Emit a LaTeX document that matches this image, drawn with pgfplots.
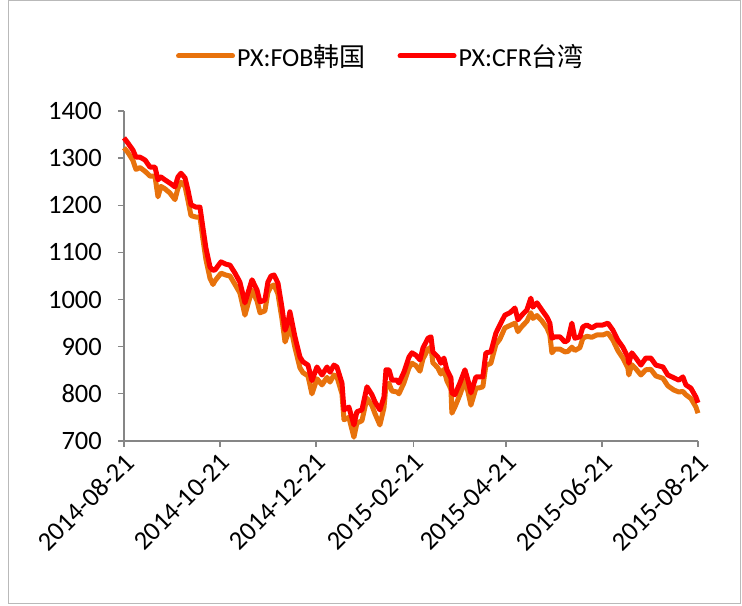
\documentclass[border=0pt]{standalone}
\usepackage{fontspec}
\setmainfont{Carlito}
\newfontfamily\cjk{Noto Sans CJK SC}
\usepackage{pgfplots}
\usepackage{pgfplotstable}
\pgfplotsset{compat=1.18}
\definecolor{fob}{RGB}{232,114,12}
\definecolor{cfr}{RGB}{255,0,0}
\definecolor{axisgray}{RGB}{134,134,134}

% day = days since 2014-08-21, prices in USD/t
\pgfplotstableread{
day cfr fob
0 1343 1322
2.5 1332 1312
5.7 1317 1295
7.6 1302 1276
10.2 1302 1280
13.4 1296 1272
16.5 1281 1262
19.7 1281 1262
21.6 1254 1218
23.5 1260 1240
26 1254 1235
29.2 1247 1226
32.4 1239 1212
34.3 1260 1236
36.2 1268 1249
38.8 1258 1240
40.7 1232 1210
42.6 1201 1178
45.8 1196 1175
48.3 1196 1175
50.2 1152 1128
52.1 1109 1085
54.7 1069 1045
56.6 1062 1032
57.9 1063 1040
61.7 1080 1056
64.8 1075 1052
67.4 1073 1050
70.6 1056 1032
73.7 1037 1014
76.9 993 967
78.8 1014 990
81.4 1042 1020
84.6 1020 997
86.5 995 972
89.6 999 976
91.5 1037 1015
93.5 1050 1028
95.4 1052 1031
97.9 1035 1012
100.4 984 960
102.4 935 910
104.3 952 928
105.5 974 950
108.7 921 898
111.9 878 855
113.8 868 845
117 861 838
119.5 828 800
122.7 857 832
125.9 840 819
129.1 857 835
131 846 825
133.5 861 840
135.4 857 836
138.6 823 800
139.9 766 745
143 772 750
146.2 734 708
148.1 762 738
151.3 766 743
154.5 815 791
157.7 798 775
159.6 783 758
162.7 766 734
165.3 793 770
166.6 851 819
168.5 851 822
170.4 829 806
173.6 829 804
174.8 823 800
178 846 823
181.2 878 855
183.1 887 865
185.6 882 860
188.2 872 848
190.1 897 874
193.3 918 895
195.2 921 899
196.4 889 866
199.6 878 855
201.5 865 842
203.4 876 852
205.3 851 828
207.9 834 810
208.5 802 759
210.4 798 772
213.6 823 798
216.8 851 828
218.7 829 805
220.6 802 776
223.8 836 812
226.3 836 813
228.2 836 815
230.1 887 860
233.3 889 865
236.5 929 905
239 946 916
242.2 967 940
245.4 972 945
248.6 982 950
250.5 957 932
253 967 943
256.2 978 954
258.7 1003 972
260 984 960
262.6 993 966
265.7 978 955
268.9 963 940
270.8 950 925
272.1 918 887
274 921 895
277.2 921 895
280.4 910 889
282.3 914 890
284.8 950 899
286.7 918 892
289.9 921 898
291.8 942 918
294.3 946 922
297.5 940 920
300.7 946 925
304.5 946 925
307.7 950 929
310.9 935 914
314 914 892
317.2 899 876
320.4 878 855
321 865 840
322.9 887 862
325.5 876 853
328.7 861 840
331.8 876 851
335 876 852
338.2 861 838
342.7 857 833
345.8 840 817
349.7 834 808
352.8 829 804
355.4 836 805
357.3 819 798
360.5 812 790
363.7 793 772
365 781 759
}\prices

\begin{document}
\begin{tikzpicture}[font=\fontsize{26bp}{31bp}\selectfont]
\begin{axis}[
  scale only axis,
  width=574bp, height=330bp,
  xmin=0, xmax=365, ymin=700, ymax=1400,
  axis lines=left,
  axis line style={-, draw=axisgray, line width=1.3bp},
  tick align=outside,
  major tick length=6bp,
  tick style={draw=axisgray, line width=1.3bp},
  xtick={0,61,122,184,243,304,365},
  xticklabels={2014-08-21,2014-10-21,2014-12-21,2015-02-21,2015-04-21,2015-06-21,2015-08-21},
  ytick={700,800,...,1400},
  tick label style={font=\fontsize{26.5bp}{31bp}\selectfont},
  xticklabel style={rotate=45, anchor=east, inner sep=0pt, yshift=-12bp, xshift=-4bp},
  yticklabel style={anchor=east, inner sep=0pt, xshift=-16bp},
  /pgf/number format/assume math mode=true,
  /pgf/number format/1000 sep={},
  clip=false,
  legend columns=2,
  legend style={draw=none, fill=none, at={(0.4477,1.1667)}, anchor=center,
    font=\fontsize{26bp}{31bp}\selectfont,
    /tikz/every even column/.append style={column sep=30bp}},
  legend image code/.code={\draw[#1, line cap=round] (0bp,0bp) -- (54bp,0bp);},
]
\addplot[fob, line width=5bp, line join=round] table[x=day, y=fob] {\prices};
\addlegendentry{PX:FOB{\cjk 韩国}}
\addplot[cfr, line width=5bp, line join=round] table[x=day, y=cfr] {\prices};
\addlegendentry{PX:CFR{\cjk 台湾}}
\draw[gray!55, line width=1bp] (rel axis cs:-0.20209,-0.49394) rectangle (rel axis cs:1.07491,1.33333);
\path (rel axis cs:-0.21603,-0.5) rectangle (rel axis cs:1.07666,1.33636);
\end{axis}
\end{tikzpicture}
\end{document}
